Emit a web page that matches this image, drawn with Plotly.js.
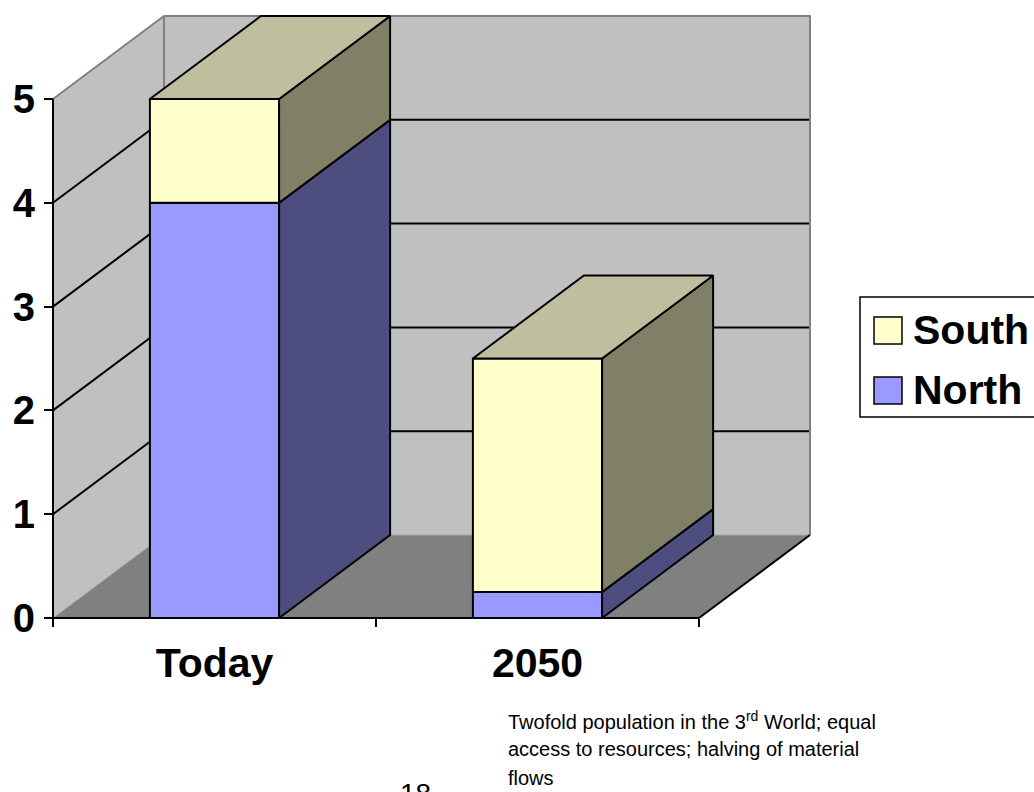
<!DOCTYPE html>
<html><head><meta charset="utf-8">
<script src="https://cdn.plot.ly/plotly-3.0.1.min.js"></script>
<style>html,body{margin:0;padding:0;background:#fff;}</style>
</head><body><div id="chart" style="width:1034px;height:792px;"></div>
<script>
// ---------- data ----------
const categories = ['Today', '2050'];
const northValues = [4, 0.25];
const southValues = [1, 2.25];
const yTickValues = [0, 1, 2, 3, 4, 5];
const yTickLabels = ['0', '1', '2', '3', '4', '5'];
const legendLabels = ['South', 'North'];
const noteLines = ['Twofold population in the 3<sup>rd</sup> World; equal', 'access to resources; halving of material', 'flows'];
const pageNumber = '18';

// ---------- geometry / styles ----------
const W = 1034, H = 792;
const L = 30, R = 830, T = 8, B = 640;          // plot area in px
const AX_X = 53, AX_Y = 618;                     // axis origin px
const PX_PER_CAT = 323, PX_PER_VAL = 103.8;
const DX = 111 / PX_PER_CAT, DY = 83 / PX_PER_VAL; // 3-D depth offset
const BAR_HALF = 0.2;
const yMax = 5;
const xLo = -0.5, xHi = categories.length - 0.5;
const xRange = [(L - AX_X) / PX_PER_CAT - 0.5, (R - AX_X) / PX_PER_CAT - 0.5];
const yRange = [(AX_Y - B) / PX_PER_VAL, (AX_Y - T) / PX_PER_VAL];
const px2paperX = p => (p - L) / (R - L);
const px2paperY = p => (B - p) / (B - T);

const FONT = 'Liberation Sans, Arial, sans-serif';
const colors = {
  north: {front: '#9999FF', side: '#4D4D80', top: '#7373BF'},
  south: {front: '#FFFFCC', side: '#808066', top: '#BFBF9F'}
};

function poly(pts, fill, lc, lw) {
  const xs = pts.map(p => p[0]), ys = pts.map(p => p[1]);
  xs.push(xs[0]); ys.push(ys[0]);
  return {type: 'scatter', mode: 'lines', x: xs, y: ys, fill: 'toself', fillcolor: fill,
    line: {color: lc || fill, width: lw === undefined ? 0 : lw}, hoverinfo: 'skip', showlegend: false};
}
function lines(segs, color, width) {
  const xs = [], ys = [];
  segs.forEach(s => { s.forEach(p => { xs.push(p[0]); ys.push(p[1]); }); xs.push(null); ys.push(null); });
  return {type: 'scatter', mode: 'lines', x: xs, y: ys, line: {color: color, width: width},
    hoverinfo: 'skip', showlegend: false};
}

const traces = [];
// walls and floor
traces.push(poly([[xLo, 0], [xLo + DX, DY], [xLo + DX, yMax + DY], [xLo, yMax]], '#C0C0C0'));
traces.push(poly([[xLo + DX, DY], [xHi + DX, DY], [xHi + DX, yMax + DY], [xLo + DX, yMax + DY]], '#C0C0C0'));
traces.push(poly([[xLo, 0], [xHi, 0], [xHi + DX, DY], [xLo + DX, DY]], '#808080'));
traces.push(lines([[[xLo, 0], [xLo + DX, DY], [xHi + DX, DY]]], '#A8A8A8', 1));
// gridlines
const grid = yTickValues.filter(v => v > 0 && v < yMax).map(v => [[xLo, v], [xLo + DX, v + DY], [xHi + DX, v + DY]]);
traces.push(lines(grid, '#000000', 2));
// wall borders
traces.push(lines([[[xLo, yMax], [xLo + DX, yMax + DY], [xHi + DX, yMax + DY], [xHi + DX, DY]],
                   [[xLo + DX, DY], [xLo + DX, yMax + DY]]], '#808080', 2));
traces.push(lines([[[xHi, 0], [xHi + DX, DY]]], '#000000', 2));

// bars
function addBox(i, b, t, c) {
  const a = i - BAR_HALF, z = i + BAR_HALF;
  traces.push(poly([[a, b], [z, b], [z, t], [a, t]], c.front, '#000', 2));
  traces.push(poly([[z, b], [z + DX, b + DY], [z + DX, t + DY], [z, t]], c.side, '#000', 2));
  traces.push(poly([[a, t], [z, t], [z + DX, t + DY], [a + DX, t + DY]], c.top, '#000', 2));
}
categories.forEach((cat, i) => {
  addBox(i, 0, northValues[i], colors.north);
  addBox(i, northValues[i], northValues[i] + southValues[i], colors.south);
});
// axis lines
traces.push(lines([[[xLo, yMax], [xLo, 0], [xHi, 0]]], '#000000', 2));

// custom legend
const shapes = [
  {type: 'rect', xref: 'paper', yref: 'paper', x0: px2paperX(860), x1: px2paperX(1050),
   y0: px2paperY(297), y1: px2paperY(417), line: {color: '#000', width: 1.5}, fillcolor: '#FFFFFF', layer: 'below'},
  {type: 'rect', xref: 'paper', yref: 'paper', x0: px2paperX(874), x1: px2paperX(902),
   y0: px2paperY(317), y1: px2paperY(344), line: {color: '#000', width: 1.5}, fillcolor: colors.south.front},
  {type: 'rect', xref: 'paper', yref: 'paper', x0: px2paperX(874), x1: px2paperX(902),
   y0: px2paperY(377), y1: px2paperY(404), line: {color: '#000', width: 1.5}, fillcolor: colors.north.front}
];
const annotations = [
  {xref: 'paper', yref: 'paper', x: px2paperX(911), y: px2paperY(330), xanchor: 'left', yanchor: 'middle',
   text: legendLabels[0], showarrow: false, font: {family: FONT, size: 41, weight: 'bold', color: '#000'}},
  {xref: 'paper', yref: 'paper', x: px2paperX(911), y: px2paperY(390), xanchor: 'left', yanchor: 'middle',
   text: legendLabels[1], showarrow: false, font: {family: FONT, size: 41, weight: 'bold', color: '#000'}},
  {xref: 'paper', yref: 'paper', x: px2paperX(415), y: px2paperY(776), xanchor: 'center', yanchor: 'top',
   text: pageNumber, showarrow: false, font: {family: FONT, size: 28, color: '#000'}}
];
const noteTops = [706, 736, 765];
noteLines.forEach((t, k) => annotations.push({
  xref: 'paper', yref: 'paper', x: px2paperX(506), y: px2paperY(noteTops[k]), xanchor: 'left', yanchor: 'top', align: 'left',
  text: t, showarrow: false, font: {family: FONT, size: 20, color: '#000'}
}));

const layout = {
  width: W, height: H,
  margin: {l: L, r: W - R, t: T, b: H - B, pad: 0},
  paper_bgcolor: '#FFFFFF', plot_bgcolor: 'rgba(0,0,0,0)',
  showlegend: false,
  xaxis: {range: xRange, anchor: 'free', position: px2paperY(AX_Y), showgrid: false, zeroline: false, showline: false,
    tickmode: 'array', tickvals: categories.map((c, i) => i), ticktext: categories, ticks: '',
    tickfont: {family: FONT, size: 41, weight: 'bold', color: '#000'}, ticklabelstandoff: 17,
    minor: {tickmode: 'array', tickvals: [xLo, 0.5, xHi], ticks: 'outside', ticklen: 8, tickwidth: 2, tickcolor: '#000', showgrid: false},
    fixedrange: true},
  yaxis: {range: yRange, anchor: 'free', position: px2paperX(AX_X), showgrid: false, zeroline: false, showline: false,
    tickmode: 'array', tickvals: yTickValues, ticktext: yTickLabels, ticks: 'outside', ticklen: 9, tickwidth: 2, tickcolor: '#000',
    tickfont: {family: FONT, size: 40, weight: 'bold', color: '#000'}, ticklabelstandoff: 1, fixedrange: true},
  shapes: shapes,
  annotations: annotations
};

Plotly.newPlot('chart', traces, layout, {displayModeBar: false, staticPlot: true});
</script>
</body></html>
